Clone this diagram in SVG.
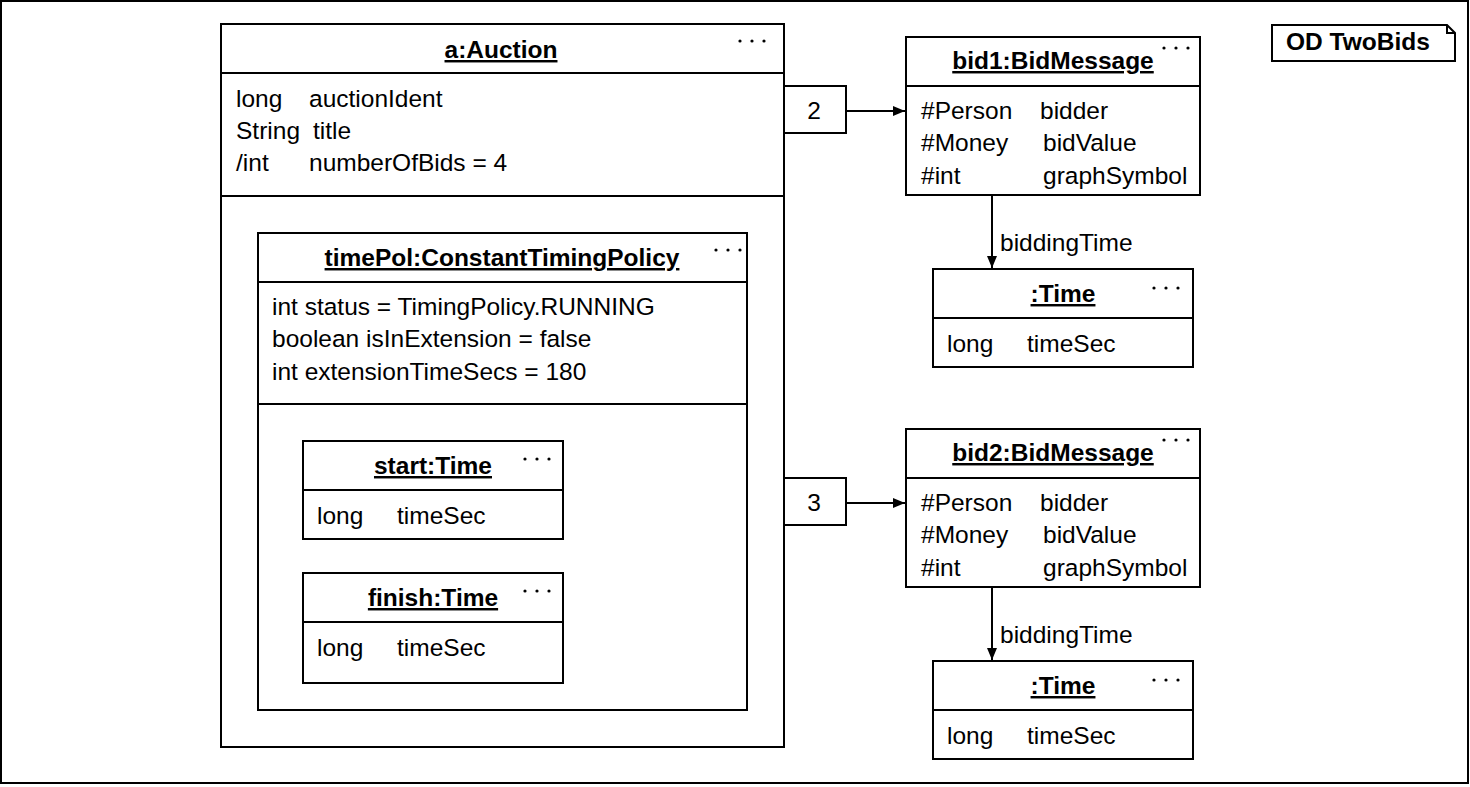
<svg xmlns="http://www.w3.org/2000/svg" width="1470" height="787" viewBox="0 0 1470 787">
<defs>
<style>
.box{fill:#fff;stroke:#000;stroke-width:2}
.ln{stroke:#000;stroke-width:2;fill:none}
.t{font-family:"Liberation Sans",Arial,sans-serif;font-size:24.5px;fill:#000}
.h{font-family:"Liberation Sans",Arial,sans-serif;font-size:24.5px;font-weight:bold;fill:#000;text-decoration:underline;text-anchor:middle}
.b{font-family:"Liberation Sans",Arial,sans-serif;font-size:24.5px;font-weight:bold;fill:#000}
.c{text-anchor:middle}
</style>
<g id="dots"><circle cx="0" cy="0" r="1.6"/><circle cx="12" cy="0" r="1.6"/><circle cx="24" cy="0" r="1.6"/></g>
<marker id="arr" viewBox="0 0 12 12" refX="12" refY="6" markerWidth="12" markerHeight="12" markerUnits="userSpaceOnUse" orient="auto"><path d="M0,1 L12,6 L0,11 Z" fill="#000"/></marker>
</defs>
<rect x="0" y="0" width="1470" height="787" fill="#fff"/>
<rect id="frame" x="1" y="1" width="1467" height="782" class="box"/>

<g id="od-label">
<path d="M1272,25 H1447 L1455,33 V61 H1272 Z" class="box"/>
<path d="M1447,25 V33 H1455" class="ln" stroke-width="1"/>
<text x="1286" y="50" class="b">OD TwoBids</text>
</g>

<g id="auction">
<rect x="221" y="24" width="563" height="723" class="box"/>
<line x1="221" y1="73" x2="784" y2="73" class="ln"/>
<line x1="221" y1="196" x2="784" y2="196" class="ln"/>
<text x="501" y="58" class="h">a:Auction</text>
<use href="#dots" x="740" y="41"/>
<text x="236" y="107" class="t">long</text><text x="309" y="107" class="t">auctionIdent</text>
<text x="236" y="139" class="t">String</text><text x="313" y="139" class="t">title</text>
<text x="236" y="171" class="t">/int</text><text x="309" y="171" class="t">numberOfBids = 4</text>
</g>

<g id="timePol">
<rect x="258" y="233" width="489" height="477" class="box"/>
<line x1="258" y1="282" x2="747" y2="282" class="ln"/>
<line x1="258" y1="404" x2="747" y2="404" class="ln"/>
<text x="502" y="266" class="h">timePol:ConstantTimingPolicy</text>
<use href="#dots" x="716" y="250"/>
<text x="272" y="315" class="t">int status = TimingPolicy.RUNNING</text>
<text x="272" y="347" class="t">boolean isInExtension = false</text>
<text x="272" y="380" class="t">int extensionTimeSecs = 180</text>
</g>

<g id="start">
<rect x="303" y="441" width="260" height="98" class="box"/>
<line x1="303" y1="490" x2="563" y2="490" class="ln"/>
<text x="433" y="474" class="h">start:Time</text>
<use href="#dots" x="525" y="459"/>
<text x="317" y="524" class="t">long</text><text x="397" y="524" class="t">timeSec</text>
</g>

<g id="finish">
<rect x="303" y="573" width="260" height="110" class="box"/>
<line x1="303" y1="622" x2="563" y2="622" class="ln"/>
<text x="433" y="606" class="h">finish:Time</text>
<use href="#dots" x="525" y="591"/>
<text x="317" y="656" class="t">long</text><text x="397" y="656" class="t">timeSec</text>
</g>

<g id="bid1">
<rect x="906" y="37" width="294" height="158" class="box"/>
<line x1="906" y1="86" x2="1200" y2="86" class="ln"/>
<text x="1053" y="69" class="h">bid1:BidMessage</text>
<use href="#dots" x="1164" y="48"/>
<text x="921" y="119" class="t">#Person</text><text x="1040" y="119" class="t">bidder</text>
<text x="921" y="151" class="t">#Money</text><text x="1043" y="151" class="t">bidValue</text>
<text x="921" y="184" class="t">#int</text><text x="1043" y="184" class="t">graphSymbol</text>
</g>

<g id="time1">
<rect x="933" y="269" width="260" height="98" class="box"/>
<line x1="933" y1="318" x2="1193" y2="318" class="ln"/>
<text x="1063" y="302" class="h">:Time</text>
<use href="#dots" x="1154" y="288"/>
<text x="947" y="352" class="t">long</text><text x="1027" y="352" class="t">timeSec</text>
</g>

<g id="bid2">
<rect x="906" y="429" width="294" height="158" class="box"/>
<line x1="906" y1="478" x2="1200" y2="478" class="ln"/>
<text x="1053" y="461" class="h">bid2:BidMessage</text>
<use href="#dots" x="1164" y="440"/>
<text x="921" y="511" class="t">#Person</text><text x="1040" y="511" class="t">bidder</text>
<text x="921" y="543" class="t">#Money</text><text x="1043" y="543" class="t">bidValue</text>
<text x="921" y="576" class="t">#int</text><text x="1043" y="576" class="t">graphSymbol</text>
</g>

<g id="time2">
<rect x="933" y="661" width="260" height="98" class="box"/>
<line x1="933" y1="710" x2="1193" y2="710" class="ln"/>
<text x="1063" y="694" class="h">:Time</text>
<use href="#dots" x="1154" y="680"/>
<text x="947" y="744" class="t">long</text><text x="1027" y="744" class="t">timeSec</text>
</g>

<g id="connectors">
<rect x="784" y="86" width="62" height="47" class="box"/>
<text x="814" y="119" class="t c">2</text>
<line x1="846" y1="111" x2="905" y2="111" class="ln" marker-end="url(#arr)"/>
<rect x="784" y="478" width="62" height="47" class="box"/>
<text x="814" y="511" class="t c">3</text>
<line x1="846" y1="503" x2="905" y2="503" class="ln" marker-end="url(#arr)"/>
<line x1="992" y1="195" x2="992" y2="268" class="ln" marker-end="url(#arr)"/>
<text x="1000" y="251" class="t">biddingTime</text>
<line x1="992" y1="587" x2="992" y2="660" class="ln" marker-end="url(#arr)"/>
<text x="1000" y="643" class="t">biddingTime</text>
</g>
</svg>
